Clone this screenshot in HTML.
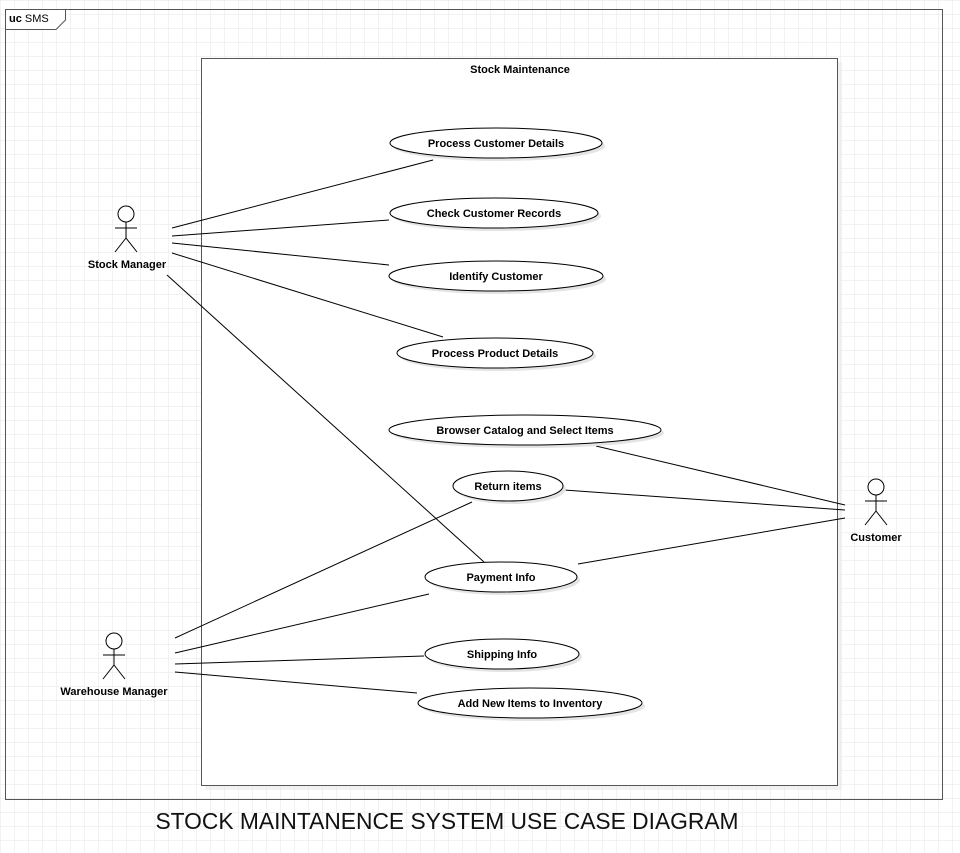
<!DOCTYPE html>
<html><head><style>
html,body{margin:0;padding:0;background:#fff;}
svg{display:block;font-family:"Liberation Sans",sans-serif;}
</style></head><body>
<svg width="960" height="853" xmlns="http://www.w3.org/2000/svg">
<defs>
<pattern id="g" width="14" height="14" patternUnits="userSpaceOnUse" x="1" y="1">
<path d="M14 0V14M0 14H14" fill="none" stroke="#e6e6e6" stroke-width="1"/>
</pattern>
</defs>
<rect width="960" height="853" fill="url(#g)"/>
<rect x="5.5" y="9.5" width="937" height="790" fill="none" stroke="#555" stroke-width="1"/>
<path d="M5.5 9.5H65.5V20L56 29.5H5.5Z" fill="#fff" stroke="#555"/>
<text x="9" y="22" font-size="11" fill="#000"><tspan font-weight="bold">uc</tspan> SMS</text>
<rect x="205" y="62" width="637" height="728" fill="#e9e9e9" opacity="0.6"/>
<rect x="201.5" y="58.5" width="636" height="727" fill="#fff" stroke="#555"/>
<text x="520" y="73" font-size="11" font-weight="bold" text-anchor="middle">Stock Maintenance</text>
<g stroke="#000" stroke-width="1">
<line x1="172" y1="228" x2="433" y2="160"/>
<line x1="172" y1="236" x2="389" y2="220"/>
<line x1="172" y1="243" x2="389" y2="265"/>
<line x1="172" y1="253" x2="443" y2="337"/>
<line x1="167" y1="275" x2="484" y2="562"/>
<line x1="596" y1="446" x2="845" y2="505"/>
<line x1="564" y1="490" x2="845" y2="510"/>
<line x1="578" y1="564" x2="845" y2="518"/>
<line x1="175" y1="638" x2="472" y2="502"/>
<line x1="175" y1="653" x2="429" y2="594"/>
<line x1="175" y1="664" x2="424" y2="656"/>
<line x1="175" y1="672" x2="417" y2="693"/>
</g>
<g font-size="11" font-weight="bold" text-anchor="middle">
<g fill="#e4e4e4"><ellipse cx="499" cy="146" rx="106" ry="15"/><ellipse cx="497" cy="216" rx="104" ry="15"/><ellipse cx="499" cy="279" rx="107" ry="15"/><ellipse cx="498" cy="356" rx="98" ry="15"/><ellipse cx="528" cy="433" rx="136" ry="15"/><ellipse cx="511" cy="489" rx="55" ry="15"/><ellipse cx="504" cy="580" rx="76" ry="15"/><ellipse cx="505" cy="657" rx="77" ry="15"/><ellipse cx="533" cy="706" rx="112" ry="15"/></g>
<g fill="#fff" stroke="#000"><ellipse cx="496" cy="143" rx="106" ry="15"/><ellipse cx="494" cy="213" rx="104" ry="15"/><ellipse cx="496" cy="276" rx="107" ry="15"/><ellipse cx="495" cy="353" rx="98" ry="15"/><ellipse cx="525" cy="430" rx="136" ry="15"/><ellipse cx="508" cy="486" rx="55" ry="15"/><ellipse cx="501" cy="577" rx="76" ry="15"/><ellipse cx="502" cy="654" rx="77" ry="15"/><ellipse cx="530" cy="703" rx="112" ry="15"/></g>
<text x="496" y="147">Process Customer Details</text>
<text x="494" y="217">Check Customer Records</text>
<text x="496" y="280">Identify Customer</text>
<text x="495" y="357">Process Product Details</text>
<text x="525" y="434">Browser Catalog and Select Items</text>
<text x="508" y="490">Return items</text>
<text x="501" y="581">Payment Info</text>
<text x="502" y="658">Shipping Info</text>
<text x="530" y="707">Add New Items to Inventory</text>
<g fill="#fff" stroke="#000">
<circle cx="126" cy="214" r="8"/><path d="M126 222V238M115 228H137M126 238L115 252M126 238L137 252" fill="none"/>
<circle cx="114" cy="641" r="8"/><path d="M114 649V665M103 655H125M114 665L103 679M114 665L125 679" fill="none"/>
<circle cx="876" cy="487" r="8"/><path d="M876 495V511M865 501H887M876 511L865 525M876 511L887 525" fill="none"/>
</g>
<text x="127" y="268">Stock Manager</text>
<text x="114" y="695">Warehouse Manager</text>
<text x="876" y="541">Customer</text>
</g>
<text x="447" y="829" font-size="22.8" text-anchor="middle" fill="#111">STOCK MAINTANENCE SYSTEM USE CASE DIAGRAM</text>
</svg>
</body></html>
